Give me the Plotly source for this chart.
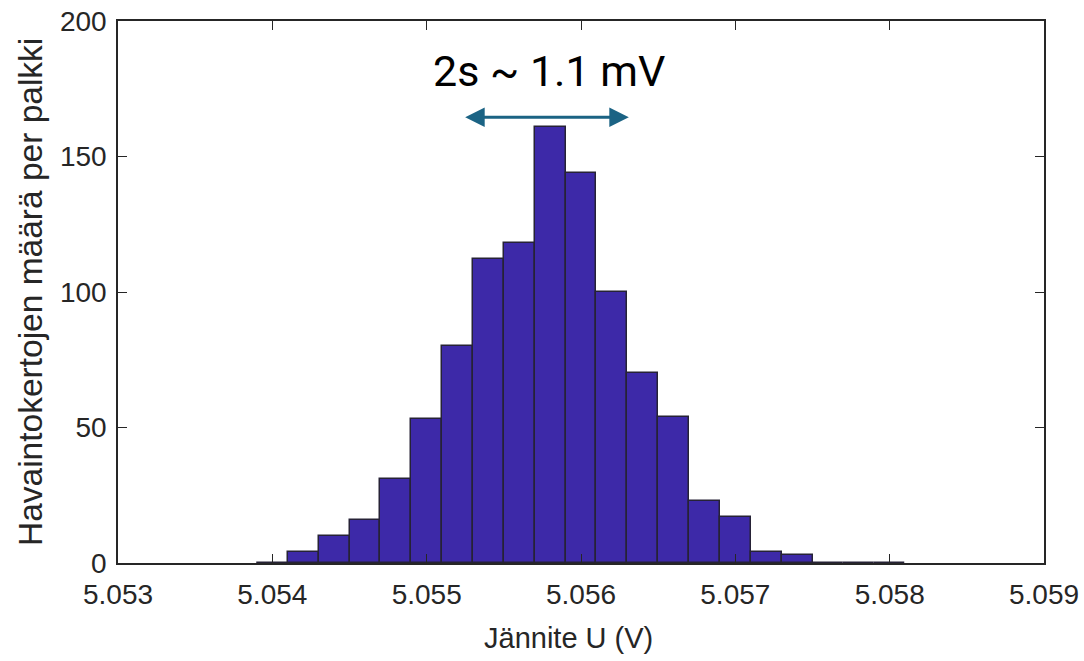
import plotly.graph_objects as go

# Histogram data (bin width 0.2 mV)
bin_start = 5.0539
bin_width = 0.0002
counts = [0, 4, 10, 16, 31, 53, 80, 112, 118, 161, 144, 100, 70, 54, 23, 17, 4, 3, 0, 0, 0]
centers = [bin_start + bin_width * (i + 0.5) for i in range(len(counts))]

x_ticks = [5.053, 5.054, 5.055, 5.056, 5.057, 5.058, 5.059]
x_tick_labels = ["5.053", "5.054", "5.055", "5.056", "5.057", "5.058", "5.059"]
y_ticks = [0, 50, 100, 150, 200]

x_title = "Jännite U (V)"
y_title = "Havaintokertojen määrä per palkki"

arrow_x = [5.05524, 5.05631]
arrow_y = 164.5
label_text = "2s ~ 1.1 mV"
label_x = 5.05579
label_y = 181.5

axis_color = "#262626"

fig = go.Figure()
fig.add_trace(go.Bar(
    x=centers,
    y=counts,
    width=bin_width,
    marker=dict(color="#3D29A8", line=dict(color="#262236", width=1.5)),
    hoverinfo="x+y",
))

fig.add_annotation(
    x=arrow_x[1], y=arrow_y, ax=arrow_x[0], ay=arrow_y,
    xref="x", yref="y", axref="x", ayref="y",
    text="", showarrow=True, arrowhead=2, arrowside="end+start",
    arrowsize=1.3, arrowwidth=3, arrowcolor="#1B6384",
)
fig.add_annotation(
    x=label_x, y=label_y, xref="x", yref="y",
    text=label_text, showarrow=False,
    font=dict(family="Roboto", size=43, color="#000000"),
)
# Axis titles as annotations for precise placement
fig.add_annotation(
    x=0.486, y=-0.138, xref="paper", yref="paper",
    xanchor="center", yanchor="middle",
    text=x_title, showarrow=False,
    font=dict(size=29, color=axis_color),
)
fig.add_annotation(
    x=-0.095, y=0.50, xref="paper", yref="paper",
    xanchor="center", yanchor="middle", textangle=-90,
    text=y_title, showarrow=False,
    font=dict(size=33.5, color=axis_color),
)

fig.update_layout(
    width=1084, height=661,
    margin=dict(l=118, r=40, t=21, b=98),
    paper_bgcolor="white", plot_bgcolor="white",
    bargap=0, showlegend=False,
    font=dict(family="Liberation Sans, Arial", color=axis_color),
)
fig.update_xaxes(
    automargin=False,
    range=[5.053, 5.059],
    tickvals=x_ticks, ticktext=x_tick_labels,
    ticks="inside", ticklen=9, tickwidth=1.2, tickcolor=axis_color,
    showline=True, linecolor=axis_color, linewidth=1.5, mirror="ticks",
    showgrid=False, zeroline=False,
    ticklabelstandoff=6,
    tickfont=dict(size=28, color=axis_color),
)
fig.update_yaxes(
    automargin=False,
    range=[0, 200],
    tickvals=y_ticks,
    ticks="inside", ticklen=9, tickwidth=1.2, tickcolor=axis_color,
    showline=True, linecolor=axis_color, linewidth=1.5, mirror="ticks",
    showgrid=False, zeroline=False,
    ticklabelstandoff=4,
    tickfont=dict(size=28, color=axis_color),
)

fig.write_html("out.html", config={"displayModeBar": False},
               post_script="document.body.style.margin='0';")
